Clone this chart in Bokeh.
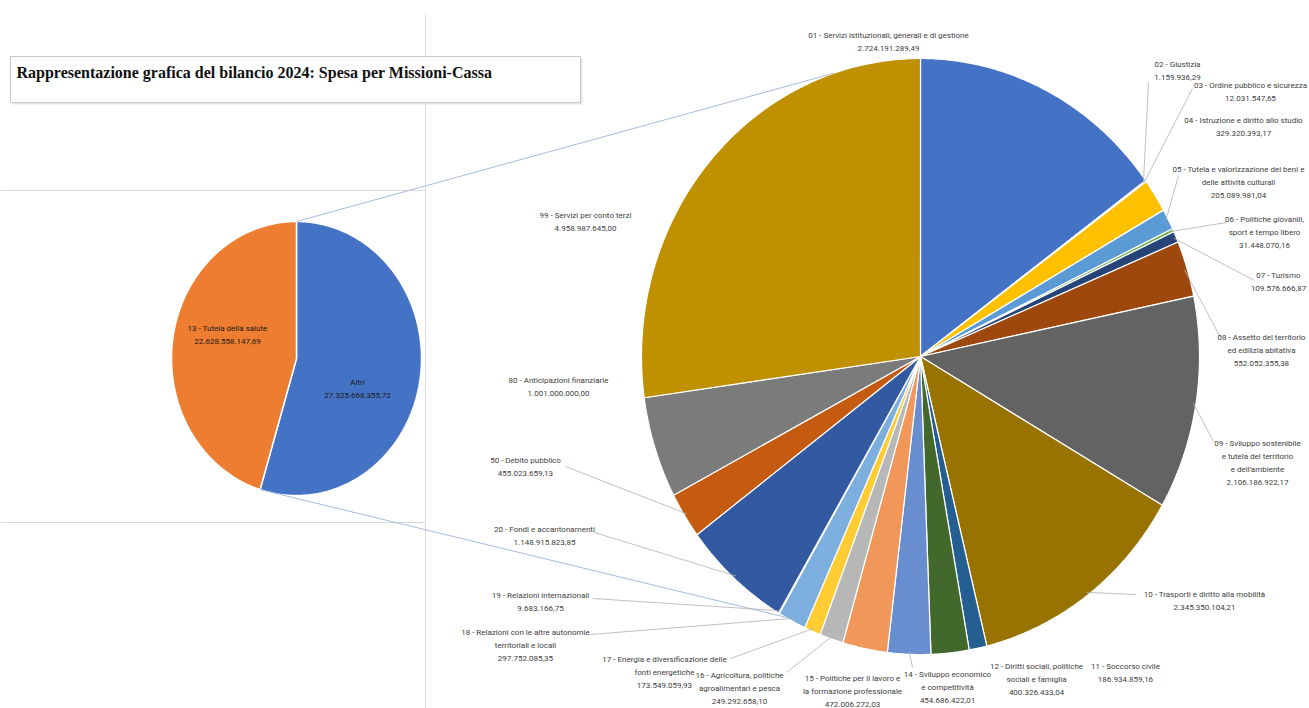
import numpy as np
from bokeh.plotting import figure
from bokeh.models import Range1d
from bokeh.core.properties import value
from bokeh.embed import file_html
from bokeh.resources import INLINE

# ---------------- data ----------------
title = "Rappresentazione grafica del bilancio 2024: Spesa per Missioni-Cassa"

main_names = ["Altri", "13 - Tutela della salute"]
main_values = [27325668355.72, 22628558147.69]
main_colors = ["#4472C4", "#ED7D31"]

codes = ["01", "02", "03", "04", "05", "06", "07", "08", "09", "10", "11",
         "12", "14", "15", "16", "17", "18", "19", "20", "50", "80", "99"]
names = [
    "Servizi istituzionali, generali e di gestione",
    "Giustizia",
    "Ordine pubblico e sicurezza",
    "Istruzione e diritto allo studio",
    "Tutela e valorizzazione dei beni e\ndelle attività culturali",
    "Politiche giovanili,\nsport e tempo libero",
    "Turismo",
    "Assetto del territorio\ned edilizia abitativa",
    "Sviluppo sostenibile\ne tutela del territorio\ne dell'ambiente",
    "Trasporti e diritto alla mobilità",
    "Soccorso civile",
    "Diritti sociali, politiche\nsociali e famiglia",
    "Sviluppo economico\ne competitività",
    "Politiche per il lavoro e\nla formazione professionale",
    "Agricoltura, politiche\nagroalimentari e pesca",
    "Energia e diversificazione delle\nfonti energetiche",
    "Relazioni con le altre autonomie\nterritoriali e locali",
    "Relazioni internazionali",
    "Fondi e accantonamenti",
    "Debito pubblico",
    "Anticipazioni finanziarie",
    "Servizi per conto terzi",
]
values = [2724191289.49, 1159936.29, 12031547.65, 329320393.17, 205089981.04,
          31448070.16, 109576666.87, 552052355.38, 2106186922.17, 2345350104.21,
          186934859.16, 400326433.04, 454686422.01, 472006272.03, 249292658.10,
          173549059.93, 297752085.35, 9683166.75, 1148915823.85, 455023659.13,
          1001000000.00, 4958987645.00]
colors = ["#4472C4", "#ED7D31", "#A5A5A5", "#FFC000", "#5B9BD5", "#70AD47",
          "#264478", "#9E480E", "#636363", "#997300", "#255E91", "#43682B",
          "#698ED0", "#F1975A", "#B7B7B7", "#FFCD33", "#7CAFDD", "#8CC168",
          "#335AA1", "#C55A11", "#7B7B7B", "#BF9000"]

# ---------------- layout (screen pixels) ----------------
# label centre x, first line centre y
label_pos = {
    "01": (888, 36), "02": (1177, 65), "03": (1250, 86), "04": (1243, 121),
    "05": (1238, 170), "06": (1264, 220), "07": (1278, 276), "08": (1261, 338),
    "09": (1257, 444), "10": (1204, 595), "11": (1125, 667), "12": (1036, 667),
    "14": (947, 675), "15": (852, 679), "16": (739, 676), "17": (664, 660),
    "18": (525, 633), "19": (540, 596), "20": (544, 530), "50": (525, 461),
    "80": (558, 381), "99": (585, 216),
}
leader_anchor = {
    "02": (1148, 82), "03": (1192, 88), "05": (1178, 175), "06": (1226, 222),
    "07": (1254, 280), "08": (1220, 337), "09": (1213, 441), "10": (1135, 594),
    "14": (912, 667), "16": (786, 672), "17": (730, 658), "18": (590, 634),
    "19": (592, 598), "20": (594, 532), "50": (565, 466),
}
CX2, CY2, RX2, RY2 = 920, 356, 279, 298   # secondary pie
CX1, CY1, RX1, RY1 = 296, 358, 125, 137   # primary pie
LH = 11.6
FS = 8


def fmt(v):
    s = f"{v:,.2f}"
    return s.replace(",", "X").replace(".", ",").replace("X", ".")


def wedge(cx, cy, rx, ry, t0, t1):
    n = max(3, int(abs(t1 - t0) / 0.01) + 2)
    th = np.linspace(t0, t1, n)
    xs = [cx] + list(cx + rx * np.sin(th)) + [cx]
    ys = [cy] + list(cy - ry * np.cos(th)) + [cy]
    return xs, ys


def pt(cx, cy, rx, ry, t):
    return cx + rx * np.sin(t), cy - ry * np.cos(t)


p = figure(width=1309, height=708, x_range=Range1d(0, 1309), y_range=Range1d(708, 0),
           output_backend="svg", toolbar_location=None, min_border=0)
p.axis.visible = False
p.grid.visible = False
p.outline_line_color = None
p.background_fill_color = "white"
p.border_fill_color = "white"

# background frame lines
p.segment(x0=[425, 0, 0], y0=[14, 190, 522], x1=[425, 425, 425], y1=[708, 190, 522],
          line_color="#DADADA", line_width=1)

# title box
p.quad(left=[12], right=[582], top=[58], bottom=[104], fill_color="#E6E6E6",
       line_color=None)
p.quad(left=[10], right=[580], top=[56], bottom=[102], fill_color="white",
       line_color="#C8C8C8", line_width=1)
p.text(x=[16], y=[72], text=[title], text_font=value("Liberation Serif"),
       text_font_style="bold", text_font_size="16px", text_color="#111111",
       text_baseline="middle", text_align="left")

# ---- secondary pie ----
vals = np.array(values)
fr = vals / vals.sum()
cum = np.concatenate([[0], np.cumsum(fr)]) * 2 * np.pi
xs, ys = [], []
for i in range(len(vals)):
    a, b = wedge(CX2, CY2, RX2, RY2, cum[i], cum[i + 1])
    xs.append(a)
    ys.append(b)
p.patches(xs=xs, ys=ys, fill_color=colors, line_color="white", line_width=1.2)

# ---- primary pie ----
mv = np.array(main_values)
mcum = np.concatenate([[0], np.cumsum(mv / mv.sum())]) * 2 * np.pi
mxs, mys = [], []
for i in range(len(mv)):
    a, b = wedge(CX1, CY1, RX1, RY1, mcum[i], mcum[i + 1])
    mxs.append(a)
    mys.append(b)
p.patches(xs=mxs, ys=mys, fill_color=main_colors, line_color="white", line_width=1.5)

# connector lines between pies
t_top, t_bot = np.deg2rad(-18), np.deg2rad(209)
a0 = pt(CX1, CY1, RX1, RY1, mcum[0])
a1 = pt(CX1, CY1, RX1, RY1, mcum[1])
b0 = pt(CX2, CY2, RX2, RY2, t_top)
b1 = pt(CX2, CY2, RX2, RY2, t_bot)
p.segment(x0=[a0[0], a1[0]], y0=[a0[1], a1[1]], x1=[b0[0], b1[0]], y1=[b0[1], b1[1]],
          line_color="#A9BBDB", line_width=1)

# leader lines
lx0, ly0, lx1, ly1 = [], [], [], []
for i, c in enumerate(codes):
    if c in leader_anchor:
        mid = (cum[i] + cum[i + 1]) / 2
        ex, ey = pt(CX2, CY2, RX2 * 0.99, RY2 * 0.99, mid)
        ax, ay = leader_anchor[c]
        lx0.append(ax); ly0.append(ay); lx1.append(ex); ly1.append(ey)
p.segment(x0=lx0, y0=ly0, x1=lx1, y1=ly1, line_color="#B0B0B0", line_width=0.8)

# secondary labels
tx, ty, tt = [], [], []
for i, c in enumerate(codes):
    x, y = label_pos[c]
    tx.append(x)
    ty.append(y - LH / 2)
    tt.append(f"{c} - {names[i]}\n{fmt(values[i])}")
p.text(x=tx, y=ty, text=tt, text_font=value("Roboto"), text_font_size=f"{FS}px",
       text_color="#404040", text_align="center", text_baseline="top",
       text_line_height=LH / FS)

# primary labels
ptx = [227, 357]
pty = [329 - LH / 2, 383 - LH / 2]
p.text(x=ptx, y=pty, text=[f"{main_names[1]}\n{fmt(main_values[1])}",
                          f"{main_names[0]}\n{fmt(main_values[0])}"],
       text_font=value("Roboto"), text_font_size=f"{FS}px", text_color="#1A1A1A",
       text_align="center", text_baseline="top", text_line_height=LH / FS)

open("out.html", "w").write(file_html(p, INLINE))
